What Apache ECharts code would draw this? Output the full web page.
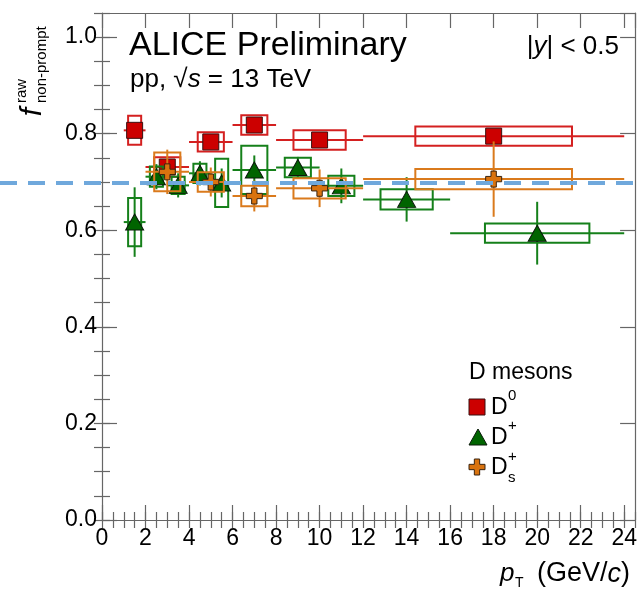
<!DOCTYPE html>
<html><head><meta charset="utf-8">
<script src="https://cdn.jsdelivr.net/npm/echarts@6/dist/echarts.min.js"></script>
<style>html,body{margin:0;padding:0;background:#fff}#c{width:640px;height:595px}</style>
</head><body><div id="c"></div>
<script>
const FONT = '"Liberation Sans", Arial, Helvetica, sans-serif';

// ---- data ----
const d0Pt     = [1.5, 3, 5, 7, 10, 18];
const d0BinLo  = [1, 2, 4, 6, 8, 12];
const d0BinHi  = [2, 4, 6, 8, 12, 24];
const d0Val    = [0.807, 0.731, 0.783, 0.818, 0.787, 0.795];
const d0Stat   = [0.012, 0.012, 0.012, 0.012, 0.012, 0.012];
const d0Sys    = [0.030, 0.020, 0.020, 0.020, 0.020, 0.020];
const d0BoxW   = [0.3, 0.6, 0.6, 0.6, 1.2, 3.6];

const dpPt     = [1.5, 2.5, 3.5, 4.5, 5.5, 7, 9, 11, 14, 20];
const dpBinLo  = [1, 2, 3, 4, 5, 6, 8, 10, 12, 16];
const dpBinHi  = [2, 3, 4, 5, 6, 8, 10, 12, 16, 24];
const dpVal    = [0.617, 0.711, 0.693, 0.718, 0.698, 0.725, 0.730, 0.692, 0.664, 0.594];
const dpStat   = [0.072, 0.026, 0.025, 0.025, 0.030, 0.030, 0.022, 0.036, 0.046, 0.065];
const dpSys    = [0.050, 0.021, 0.018, 0.020, 0.050, 0.050, 0.020, 0.021, 0.021, 0.020];
const dpBoxW   = [0.3, 0.3, 0.3, 0.3, 0.3, 0.6, 0.6, 0.6, 1.2, 2.4];

const dsPt     = [3, 5, 7, 10, 18];
const dsBinLo  = [2, 4, 6, 8, 12];
const dsBinHi  = [4, 6, 8, 12, 24];
const dsVal    = [0.721, 0.700, 0.671, 0.687, 0.706];
const dsStat   = [0.046, 0.030, 0.032, 0.039, 0.078];
const dsSys    = [0.040, 0.020, 0.021, 0.021, 0.021];
const dsBoxW   = [0.6, 0.6, 0.6, 1.2, 3.6];

const refLine  = 0.698;
const xTicks   = [0, 24.5];
const yTicks   = [0, 1.05];

// ---- styles ----
const C = {
  d0:  {line: '#d42020', fill: '#cc0000', edge: '#3a1010'},
  dp:  {line: '#15801a', fill: '#006400', edge: '#0a1a0a'},
  ds:  {line: '#da7a1c', fill: '#d9730f', edge: '#3a2410'}
};
const CROSS = 'path://M1,0 L2,0 L2,1 L3,1 L3,2 L2,2 L2,3 L1,3 L1,2 L0,2 L0,1 L1,1 Z';

function rows(pt, lo, hi, v, st, sy, bw) {
  return pt.map((x, i) => [x, v[i], lo[i], hi[i], st[i], sy[i], bw[i]]);
}
function errSeries(name, data, col, z) {
  return {
    type: 'custom', name: name, z: z, data: data, clip: true,
    renderItem: function (params, api) {
      const x = api.value(0), y = api.value(1), lo = api.value(2), hi = api.value(3);
      const st = api.value(4), sy = api.value(5), bw = api.value(6);
      const a = api.coord([x - bw, y + sy]), b = api.coord([x + bw, y - sy]);
      const l = api.coord([lo, y]), r = api.coord([hi, y]);
      const t = api.coord([x, y + st]), d = api.coord([x, y - st]);
      const ls = {stroke: col, lineWidth: 2, fill: null};
      return {type: 'group', children: [
        {type: 'rect', shape: {x: a[0], y: a[1], width: b[0] - a[0], height: b[1] - a[1]}, style: {stroke: col, lineWidth: 2, fill: null}},
        {type: 'line', shape: {x1: l[0], y1: l[1], x2: r[0], y2: r[1]}, style: ls},
        {type: 'line', shape: {x1: t[0], y1: t[1], x2: d[0], y2: d[1]}, style: ls}
      ]};
    }
  };
}
function markSeries(name, pt, v, sym, size, col, z) {
  return {
    type: 'scatter', name: name, z: z, symbol: sym, symbolSize: size,
    data: pt.map((x, i) => [x, v[i]]),
    itemStyle: {color: col.fill, borderColor: col.edge, borderWidth: 1, opacity: 1},
    emphasis: {disabled: true}
  };
}

const axLine = {show: true, onZero: false, lineStyle: {color: '#666', width: 1.2}};
function xAx(pos, interval, len, major) {
  return {
    type: 'value', position: pos, min: xTicks[0], max: xTicks[1], interval: interval,
    axisLine: major ? axLine : {show: false},
    axisTick: {show: true, inside: true, length: len, lineStyle: {color: '#666', width: 1.2}},
    axisLabel: (major && pos === 'bottom') ? {show: true, margin: 7, fontSize: 23, fontFamily: FONT, color: '#000', showMaxLabel: false, formatter: v => String(v)} : {show: false},
    splitLine: {show: false}
  };
}
function yAx(pos, interval, len, major) {
  return {
    type: 'value', position: pos, min: yTicks[0], max: yTicks[1], interval: interval,
    axisLine: major ? axLine : {show: false},
    axisTick: {show: true, inside: true, length: len, lineStyle: {color: '#666', width: 1.2}},
    axisLabel: (major && pos === 'left') ? {show: true, margin: 5, fontSize: 23, fontFamily: FONT, color: '#000', showMaxLabel: false, formatter: v => v.toFixed(1)} : {show: false},
    splitLine: {show: false}
  };
}

const chart = echarts.init(document.getElementById('c'), null, {renderer: 'canvas'});
chart.setOption({
  animation: false,
  backgroundColor: '#fff',
  grid: {left: 102, right: 3, top: 13, bottom: 75, containLabel: false},
  xAxis: [xAx('bottom', 2, 15, true), xAx('bottom', 0.5, 8, false), xAx('top', 2, 15, true), xAx('top', 0.5, 8, false)],
  yAxis: [yAx('left', 0.2, 15, true), yAx('left', 0.05, 8, false), yAx('right', 0.2, 15, true), yAx('right', 0.05, 8, false)],
  series: [
    errSeries('D0err', rows(d0Pt, d0BinLo, d0BinHi, d0Val, d0Stat, d0Sys, d0BoxW), C.d0.line, 2),
    markSeries('D0', d0Pt, d0Val, 'rect', 16, C.d0, 3),
    errSeries('Dperr', rows(dpPt, dpBinLo, dpBinHi, dpVal, dpStat, dpSys, dpBoxW), C.dp.line, 4),
    markSeries('Dp', dpPt, dpVal, 'triangle', [18, 16], C.dp, 5),
    errSeries('Dserr', rows(dsPt, dsBinLo, dsBinHi, dsVal, dsStat, dsSys, dsBoxW), C.ds.line, 6),
    markSeries('Ds', dsPt, dsVal, CROSS, 16, C.ds, 7)
  ]
});

const yRef = chart.convertToPixel({yAxisIndex: 0}, refLine);
function txt(x, y, text, size, opts) {
  return {type: 'text', x: x, y: y, z: 50, style: Object.assign({text: text, fontSize: size, fontFamily: FONT, fill: '#000', textAlign: 'left', verticalAlign: 'middle'}, opts || {})};
}
function crossPts(cx, cy, s) {
  const h = s / 2, a = s / 6;
  return [[cx - a, cy - h], [cx + a, cy - h], [cx + a, cy - a], [cx + h, cy - a], [cx + h, cy + a], [cx + a, cy + a],
          [cx + a, cy + h], [cx - a, cy + h], [cx - a, cy + a], [cx - h, cy + a], [cx - h, cy - a], [cx - a, cy - a]];
}
const rn = {n: {fontSize: 26, fontFamily: FONT, fill: '#000'}, i: {fontSize: 26, fontFamily: FONT, fontStyle: 'italic', fill: '#000'}};
const g = [
  {type: 'line', z: 40, shape: {x1: 0, y1: yRef, x2: 640, y2: yRef}, style: {stroke: '#6fa8dc', lineWidth: 4, lineDash: [17, 11]}},
  txt(129, 46, 'ALICE Preliminary', 34),
  {type: 'text', x: 130, y: 80, z: 50, style: {text: '{n|pp, √}{i|s}{n| = 13 TeV}', fontFamily: FONT, verticalAlign: 'middle', rich: rn}},
  {type: 'text', x: 619, y: 47, z: 50, style: {text: '{n||}{i|y}{n|| < 0.5}', fontFamily: FONT, textAlign: 'right', verticalAlign: 'middle', rich: rn}},
  // y title
  {type: 'text', x: 33, y: 112, rotation: Math.PI / 2, z: 50, style: {text: 'f', fontSize: 30, fontFamily: FONT, fontStyle: 'italic', fill: '#000', textAlign: 'center', verticalAlign: 'middle'}},
  {type: 'text', x: 22, y: 103, rotation: Math.PI / 2, z: 50, style: {text: 'raw', fontSize: 15, fontFamily: FONT, fill: '#000', textAlign: 'left', verticalAlign: 'middle'}},
  {type: 'text', x: 42, y: 103, rotation: Math.PI / 2, z: 50, style: {text: 'non-prompt', fontSize: 15, fontFamily: FONT, fill: '#000', textAlign: 'left', verticalAlign: 'middle'}},
  // x title
  txt(500, 574, 'p', 26, {fontStyle: 'italic'}),
  txt(515, 583, 'T', 14),
  {type: 'text', x: 630, y: 574, z: 50, style: {text: '{n|(GeV/}{i|c}{n|)}', fontFamily: FONT, textAlign: 'right', verticalAlign: 'middle', rich: {n: {fontSize: 27, fontFamily: FONT, fill: '#000'}, i: {fontSize: 27, fontFamily: FONT, fontStyle: 'italic', fill: '#000'}}}},
  // legend
  txt(469, 373, 'D mesons', 23),
  {type: 'rect', z: 50, shape: {x: 469, y: 399, width: 16, height: 16}, style: {fill: C.d0.fill, stroke: C.d0.edge, lineWidth: 1}},
  txt(491, 408, 'D', 23),
  txt(508, 396, '0', 15),
  {type: 'polygon', z: 50, shape: {points: [[478, 429], [487, 445], [469, 445]]}, style: {fill: C.dp.fill, stroke: C.dp.edge, lineWidth: 1}},
  txt(491, 438, 'D', 23),
  txt(508, 426, '+', 15),
  {type: 'polygon', z: 50, shape: {points: crossPts(477, 467, 16)}, style: {fill: C.ds.fill, stroke: C.ds.edge, lineWidth: 1}},
  txt(491, 468, 'D', 23),
  txt(508, 457, '+', 15),
  txt(508, 478, 's', 15)
];
chart.setOption({graphic: g});
</script></body></html>
